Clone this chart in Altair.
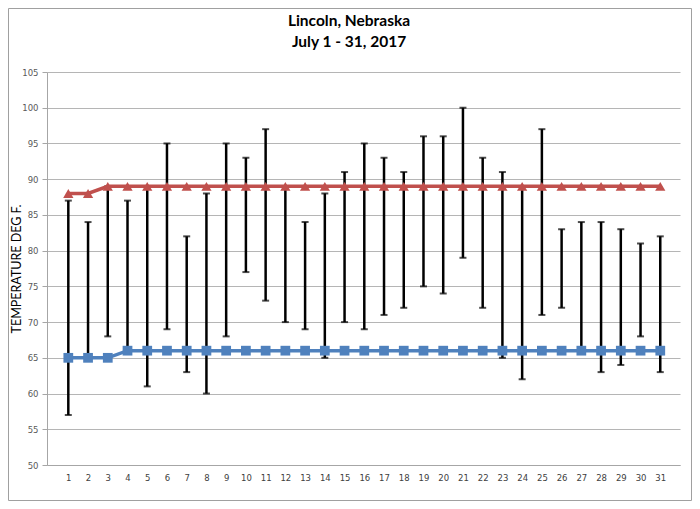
import altair as alt
import pandas as pd

days = list(range(1, 32))
high = [87, 84, 89, 87, 89, 95, 82, 88, 95, 93, 97, 89, 84, 88, 91, 95, 93, 91, 96, 96,
        100, 93, 91, 89, 97, 83, 84, 84, 83, 81, 82]
low = [57, 65, 68, 66, 61, 69, 63, 60, 68, 77, 73, 70, 69, 65, 70, 69, 71, 72, 75, 74,
       79, 72, 65, 62, 71, 72, 66, 63, 64, 68, 63]
normal_high = [88, 88] + [89] * 29
normal_low = [65, 65, 65] + [66] * 28
y_ticks = [50, 55, 60, 65, 70, 75, 80, 85, 90, 95, 100, 105]
title_lines = ["Lincoln, Nebraska", "July 1 - 31, 2017"]

df = pd.DataFrame({"day": days, "high": high, "low": low,
                   "nhigh": normal_high, "nlow": normal_low})

RED = "#C0504D"
BLUE = "#4F81BD"

xscale = alt.Scale(domain=[-0.08, 32], nice=False, zero=False)
yscale = alt.Scale(domain=[50, 105], nice=False, zero=False)

x_axis = alt.Axis(values=days, title=None, grid=False, ticks=False,
                  labelPadding=8, labelFont="DejaVu Sans", labelFontSize=8.5,
                  labelColor="#404040", domainColor="#A6A6A6",
                  labelFlush=False, labelOverlap=False)
y_axis = alt.Axis(values=y_ticks, title="TEMPERATURE DEG F.",
                  grid=True, gridColor="#B5B5B5", tickColor="#A6A6A6", tickSize=5,
                  domainColor="#A6A6A6", labelFont="DejaVu Sans", labelFontSize=8.5,
                  labelColor="#595959", labelPadding=4, labelOverlap=False,
                  labelFlush=False, labelBound=False,
                  titleFont="Lato", titleFontSize=12.5, titleFontWeight="normal",
                  titleColor="#000000", titlePadding=-1.5)


def X():
    return alt.X("day:Q", scale=xscale, axis=x_axis)


def Y(field):
    return alt.Y(field, scale=yscale, axis=y_axis)


base = alt.Chart(df)

bars = base.mark_rule(color="black", strokeWidth=2.5).encode(
    x=X(), y=Y("low:Q"), y2="high:Q")
cap_hi = base.mark_tick(color="black", orient="horizontal", size=7, thickness=2).encode(
    x=X(), y=Y("high:Q"))
cap_lo = base.mark_tick(color="black", orient="horizontal", size=7, thickness=2).encode(
    x=X(), y=Y("low:Q"))

red_line = base.mark_line(color=RED, strokeWidth=3.5).encode(x=X(), y=Y("nhigh:Q"))
red_pts = base.mark_point(shape="triangle-up", filled=True, color=RED, size=105,
                          opacity=1).encode(x=X(), y=Y("nhigh:Q"))
blue_line = base.mark_line(color=BLUE, strokeWidth=3.5).encode(x=X(), y=Y("nlow:Q"))
blue_pts = base.mark_point(shape="square", filled=True, color=BLUE, size=95,
                           opacity=1).encode(x=X(), y=Y("nlow:Q"))

frame = alt.Chart(pd.DataFrame({"a": [0]})).mark_rect(
    filled=False, stroke="#A0A0A0", strokeWidth=1).encode(
    x=alt.value(-38.5), x2=alt.value(644.5), y=alt.value(-63.5), y2=alt.value(428.5))

tdf = pd.DataFrame({"t": title_lines})
title1 = alt.Chart(tdf.iloc[[0]]).mark_text(
    font="Lato", fontSize=15.5, fontWeight="bold", color="#000000",
    align="center", baseline="alphabetic").encode(
    text="t:N", x=alt.value(302), y=alt.value(-46.5))
title2 = alt.Chart(tdf.iloc[[1]]).mark_text(
    font="Lato", fontSize=15.5, fontWeight="bold", color="#000000",
    align="center", baseline="alphabetic").encode(
    text="t:N", x=alt.value(302), y=alt.value(-25))

chart = alt.layer(bars, cap_hi, cap_lo, blue_line, blue_pts, red_line, red_pts,
                  frame, title1, title2).properties(
    width=633, height=393,
    autosize=alt.AutoSizeParams(type="none"),
    padding={"left": 39, "top": 64, "right": 12, "bottom": 36},
    background="white",
).configure_view(stroke=None)

chart.save("out.html", embed_options={"renderer": "svg", "actions": False})
